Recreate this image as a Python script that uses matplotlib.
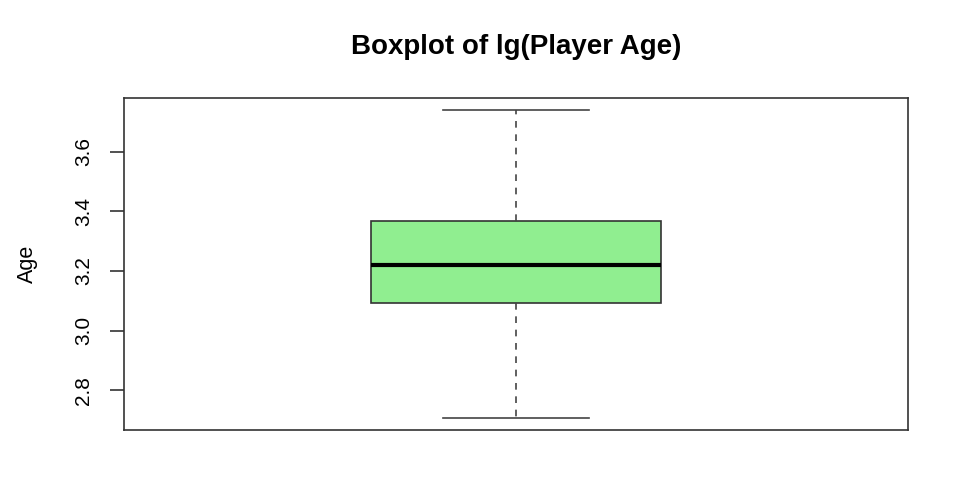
import matplotlib
matplotlib.use("Agg")
import matplotlib.pyplot as plt

plt.rcParams['font.family'] = ['Liberation Sans', 'DejaVu Sans']

# five-number summary of lg(Player Age)
whisker_low = 2.708
q1 = 3.091
median = 3.219
q3 = 3.367
whisker_high = 3.738

stats = [{
    'whislo': whisker_low,
    'q1': q1,
    'med': median,
    'q3': q3,
    'whishi': whisker_high,
    'fliers': [],
}]

fig = plt.figure(figsize=(9.67, 4.96), dpi=100)
ax = fig.add_axes([0.1282, 0.133, 0.811, 0.669])

ax.bxp(stats, positions=[1], widths=0.4, patch_artist=True, showfliers=False,
       boxprops=dict(facecolor='#90EE90', edgecolor='#333333', linewidth=1.2),
       medianprops=dict(color='black', linewidth=3),
       whiskerprops=dict(color='#444444', linestyle=(0, (4, 4)), linewidth=1.2),
       capprops=dict(color='#444444', linewidth=1.2),
       capwidths=0.2)

ax.set_xlim(0.46, 1.54)
ax.set_ylim(2.6668, 3.7792)
ax.set_xticks([])
ax.set_yticks([2.8, 3.0, 3.2, 3.4, 3.6])
ax.set_yticklabels(['2.8', '3.0', '3.2', '3.4', '3.6'], rotation=90, va='center')
ax.tick_params(axis='y', length=10, width=1.2, color='#333333', labelsize=15, pad=12)
for s in ax.spines.values():
    s.set_color('#333333')
    s.set_linewidth(1.2)

ax.set_ylabel('Age', fontsize=15.5, labelpad=26)
ax.set_title('Boxplot of lg(Player Age)', fontsize=20, fontweight='bold', pad=32)

fig.savefig('out.png', dpi=100)
